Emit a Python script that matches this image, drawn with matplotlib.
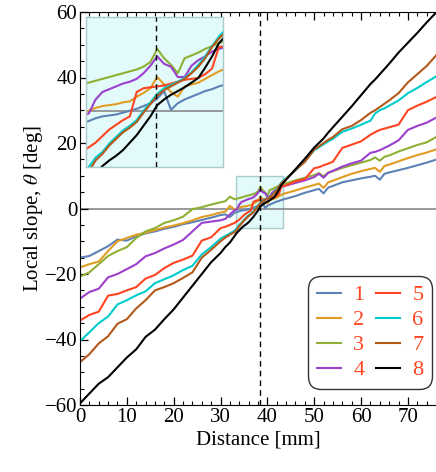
import matplotlib
matplotlib.use("Agg")
import matplotlib.pyplot as plt
from matplotlib.patches import Rectangle

plt.rcParams['font.family'] = 'serif'
plt.rcParams['font.serif'] = ['Liberation Serif']
plt.rcParams['mathtext.fontset'] = 'stix'

# distance [mm]
x = [0, 2, 4, 6, 8, 10, 12, 14, 16, 18, 20, 22, 24, 26, 28, 30, 31, 32, 33,
     33.5, 34, 34.5, 35, 35.5, 36, 36.5, 37, 37.5, 38, 38.5, 39, 39.5, 40,
     40.5, 41, 41.5, 42, 42.5, 43, 43.5, 44, 46, 48, 50, 51, 52, 53, 54, 56,
     58, 60, 62, 63, 64, 65, 66, 68, 70, 72, 74, 76]

s1 = [-15.0, -14.5, -13.0, -11.5, -9.5, -9.8, -8.5, -7.6, -7.0, -6.2, -5.6, -4.8, -4.2, -3.5, -2.8, -2.0, -1.8, -2.6, -1.3,
      -1.1, -0.8, -0.6, -0.5, -0.4, -0.2, 0.0, 0.2, 0.5, 0.8, 1.3, 2.1, 0.1, 0.8,
      1.2, 1.5, 1.8, 2.1, 2.3, 2.6, 2.8, 3.0, 3.8, 4.8, 5.6, 6.0, 4.6, 6.4, 6.9, 8.0,
      8.6, 9.2, 9.7, 10.0, 8.8, 10.6, 11.0, 11.7, 12.4, 13.2, 14.0, 14.9]
s2 = [-18.0, -17.0, -16.2, -13.0, -10.0, -9.0, -8.0, -7.4, -6.6, -5.8, -5.2, -4.5, -3.6, -2.6, -2.0, -1.2, -1.0, 0.8, -0.3,
      0.0, 0.3, 0.5, 0.6, 0.7, 0.9, 1.0, 1.5, 1.9, 2.4, 3.6, 2.8, 2.0, 1.5,
      2.6, 2.8, 3.0, 3.4, 3.8, 4.2, 4.5, 4.7, 5.5, 6.4, 7.2, 7.6, 6.3, 8.0, 8.5, 9.6,
      10.6, 11.4, 12.1, 12.4, 11.2, 13.0, 13.4, 14.4, 15.4, 16.3, 17.1, 18.0]
s3 = [-20.8, -19.5, -17.0, -14.5, -13.0, -11.8, -9.0, -7.0, -6.0, -4.4, -3.6, -2.5, -0.2, 0.4, 1.2, 1.9, 2.2, 3.6, 2.8,
      3.0, 3.2, 3.4, 3.6, 3.8, 4.0, 4.2, 4.4, 4.7, 5.2, 6.6, 5.6, 4.9, 4.0,
      5.6, 5.9, 6.2, 6.6, 6.9, 7.2, 7.5, 7.7, 8.6, 9.4, 10.2, 10.8, 9.8, 11.0, 11.4, 12.4,
      13.2, 14.0, 14.8, 15.6, 14.6, 15.8, 16.2, 17.4, 18.4, 19.4, 20.2, 21.8]
s4 = [-27.5, -25.5, -24.5, -21.0, -20.0, -18.5, -17.0, -14.6, -13.6, -12.2, -11.0, -9.6, -7.0, -4.4, -4.0, -3.6, -3.2, -1.8, -0.5,
      -0.3, 1.2, 2.0, 2.3, 2.6, 2.9, 3.1, 3.4, 4.0, 4.8, 5.8, 5.0, 4.7, 3.6,
      3.6, 4.8, 5.4, 5.8, 6.3, 6.6, 6.8, 7.0, 7.8, 8.6, 9.6, 10.6, 9.4, 10.9, 11.5, 12.8,
      13.8, 14.6, 17.0, 17.3, 17.8, 18.5, 19.2, 20.8, 24.0, 25.2, 26.2, 27.7]
s5 = [-34.2, -32.5, -31.5, -26.6, -26.1, -25.0, -24.0, -21.4, -20.3, -18.2, -16.6, -15.6, -14.4, -9.8, -8.8, -6.0, -5.6, -5.0, -4.4,
      -3.9, -3.4, -2.7, -2.0, -1.5, -1.0, -0.6, 2.0, 2.4, 2.5, 2.6, 2.7, 2.9, 3.1,
      3.3, 3.4, 3.5, 3.9, 4.5, 6.8, 6.9, 7.1, 8.3, 9.0, 12.3, 12.6, 13.2, 13.7, 14.3, 18.5,
      19.5, 20.5, 22.5, 23.3, 24.0, 24.4, 24.8, 25.6, 30.0, 31.4, 32.6, 34.0]
s6 = [-40.5, -37.8, -35.0, -33.0, -29.3, -28.0, -26.5, -25.3, -22.8, -21.6, -20.4, -18.8, -17.5, -14.0, -11.8, -9.2, -8.4, -7.6, -6.8,
      -6.0, -5.0, -4.4, -3.5, -2.8, -2.1, -1.6, -1.0, 0.0, 0.9, 1.8, 2.4, 2.75, 3.1,
      3.5, 4.1, 4.9, 5.8, 6.9, 7.9, 8.7, 9.3, 11.6, 14.5, 17.8, 18.7, 19.6, 20.5, 21.3, 23.4,
      24.4, 25.6, 26.8, 29.0, 30.0, 30.6, 31.4, 33.0, 35.2, 36.8, 38.6, 40.3]
s7 = [-46.9, -44.5, -41.2, -39.0, -35.2, -33.8, -30.5, -28.0, -25.0, -24.0, -22.8, -21.2, -19.5, -15.0, -12.6, -10.0, -8.9, -8.0, -7.2,
      -6.5, -5.3, -4.6, -3.7, -3.0, -2.3, -1.8, -1.2, -0.2, 0.7, 1.6, 2.2, 2.6, 3.0,
      3.4, 4.0, 4.7, 5.6, 6.8, 7.7, 8.4, 9.0, 11.8, 14.2, 18.0, 19.0, 20.0, 21.0, 21.8, 24.2,
      25.2, 27.0, 29.2, 30.0, 31.0, 32.0, 33.0, 35.2, 38.5, 41.0, 43.5, 46.7]
s8 = [-59.5, -56.5, -53.5, -51.5, -48.5, -45.5, -43.0, -39.2, -37.0, -33.8, -30.8, -27.2, -23.6, -20.0, -16.4, -13.6, -11.8, -10.4, -8.4,
      -7.4, -6.7, -5.9, -5.3, -4.8, -4.2, -3.4, -2.6, -1.6, -0.6, 0.6, 1.2, 1.7, 2.1,
      2.5, 3.0, 3.5, 4.6, 5.8, 7.2, 8.0, 8.8, 12.0, 15.2, 18.6, 20.0, 21.4, 23.2, 24.8, 28.0,
      31.2, 34.6, 38.0, 39.4, 41.0, 42.6, 44.2, 47.6, 50.6, 53.6, 56.8, 59.8]

series = [s1, s2, s3, s4, s5, s6, s7, s8]
labels = ['1', '2', '3', '4', '5', '6', '7', '8']
colors = ['#5e81b5', '#e19c24', '#8fb032', '#9b3fcc', '#ff4422', '#00cccc', '#b3591a', '#000000']

x_mark = 38.4
zoom_x = (33.3, 43.3)
zoom_y = (-6, 10)

fig = plt.figure(figsize=(4.36, 4.72), dpi=100)
ax = fig.add_axes([80 / 436, 67 / 472, 356 / 436, 393 / 472])

ax.add_patch(Rectangle((zoom_x[0], zoom_y[0]), zoom_x[1] - zoom_x[0], zoom_y[1] - zoom_y[0],
                       facecolor='#e2fafa', edgecolor='#a8cccc', lw=1, zorder=0.5))
ax.axhline(0, color='#888888', lw=1.2, zorder=1)
lines = []
for s, c, lab in zip(series, colors, labels):
    ln, = ax.plot(x, s, color=c, lw=1.5, label=lab, zorder=2)
    lines.append(ln)
ax.axvline(x_mark, color='k', lw=1, ls=(0, (4, 3)), zorder=3)

ax.set_xlim(0, 76)
ax.set_ylim(-60, 60)
ax.set_xticks(range(0, 80, 10))
ax.set_xticks(range(0, 77, 2), minor=True)
ax.set_yticks(range(-60, 61, 20))
ax.set_yticks(range(-60, 61, 5), minor=True)
ax.tick_params(which='both', direction='in', top=True, right=False, labelsize=15)
ax.tick_params(which='major', length=6, width=0.9, pad=2)
ax.tick_params(which='minor', length=3, width=0.8)
ax.spines['right'].set_visible(False)
ax.set_xlabel('Distance [mm]', fontsize=15, labelpad=3)
ax.set_ylabel(r'Local slope, $\theta$ [deg]', fontsize=15, labelpad=0)

leg = ax.legend(handles=lines, ncol=2, loc='lower left', bbox_to_anchor=(0.64, 0.04),
                fontsize=16, handlelength=1.1, handletextpad=0.55, columnspacing=0.5,
                labelspacing=0.2, borderpad=0.4, borderaxespad=0.0, frameon=True, fancybox=True)
leg.get_frame().set_edgecolor('k')
leg.get_frame().set_linewidth(1.0)
leg.get_frame().set_boxstyle('round', pad=0.0, rounding_size=0.6)
for t in leg.get_texts():
    t.set_color('#ff4422')

# inset
axi = fig.add_axes([86 / 436, (472 - 167) / 472, 137 / 436, 150 / 472])
axi.set_facecolor('#e2fafa')
axi.axhline(0, color='#888888', lw=1.2, zorder=1)
for s, c in zip(series, colors):
    axi.plot(x, s, color=c, lw=1.5, zorder=2)
axi.axvline(x_mark, color='k', lw=1, ls=(0, (4, 3)), zorder=3)
axi.set_xlim(*zoom_x)
axi.set_ylim(*zoom_y)
axi.set_xticks([])
axi.set_yticks([])
for sp in axi.spines.values():
    sp.set_edgecolor('#a8cccc')
    sp.set_linewidth(1)

fig.savefig('out.png', dpi=100)
